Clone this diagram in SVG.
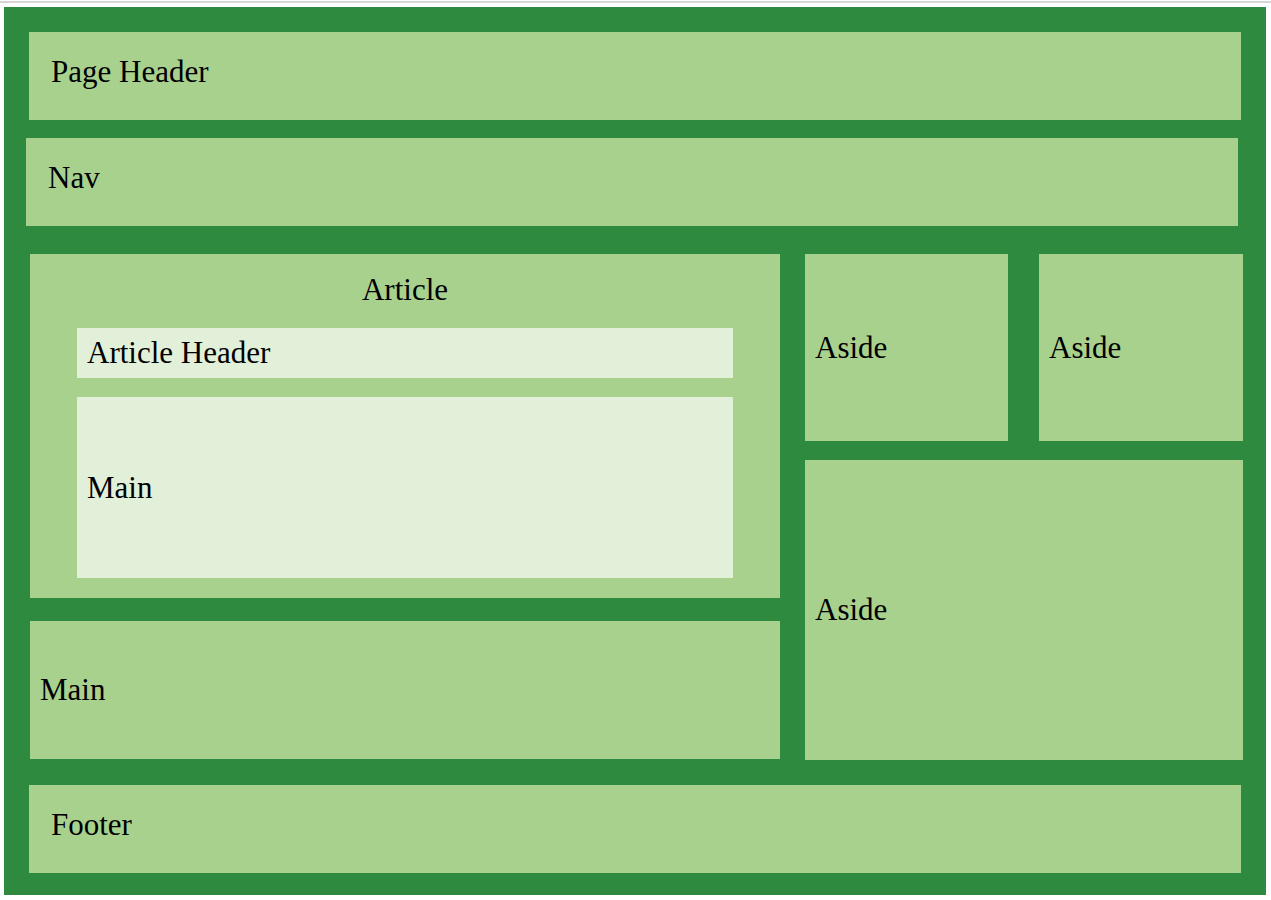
<svg xmlns="http://www.w3.org/2000/svg" width="1271" height="900" viewBox="0 0 1271 900">
<style>
.box{fill:#a9d18e}
.inner{fill:#e2efd9}
text{font-family:"Liberation Serif","Times New Roman",serif;font-size:31px;fill:#000}
</style>
<rect x="0" y="0" width="1271" height="900" fill="#ffffff"/>
<rect x="0" y="1" width="1271" height="2" fill="#d6d6d6"/>
<rect id="container" x="4" y="7" width="1262" height="888" fill="#2d8a3e"/>
<g id="page-header"><rect class="box" x="29" y="32" width="1212" height="88"/><text x="51" y="82">Page Header</text></g>
<g id="nav"><rect class="box" x="26" y="138" width="1212" height="88"/><text x="48" y="188">Nav</text></g>
<g id="article"><rect class="box" x="30" y="254" width="750" height="344"/><text x="405" y="300" text-anchor="middle">Article</text>
<g id="article-header"><rect class="inner" x="77" y="328" width="656" height="50"/><text x="87" y="363">Article Header</text></g>
<g id="article-main"><rect class="inner" x="77" y="397" width="656" height="181"/><text x="87" y="498">Main</text></g>
</g>
<g id="main"><rect class="box" x="30" y="621" width="750" height="138"/><text x="40" y="700">Main</text></g>
<g id="aside-1"><rect class="box" x="805" y="254" width="203" height="187"/><text x="815" y="358">Aside</text></g>
<g id="aside-2"><rect class="box" x="1039" y="254" width="204" height="187"/><text x="1049" y="358">Aside</text></g>
<g id="aside-3"><rect class="box" x="805" y="460" width="438" height="300"/><text x="815" y="620">Aside</text></g>
<g id="footer"><rect class="box" x="29" y="785" width="1212" height="88"/><text x="51" y="835">Footer</text></g>
<g id="connectors"></g>
</svg>
